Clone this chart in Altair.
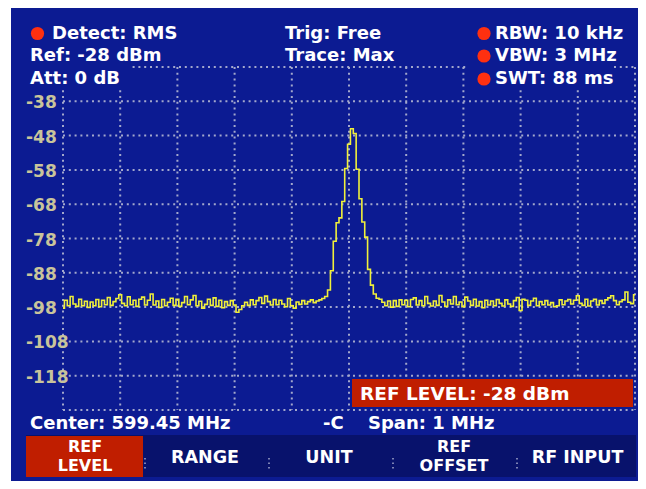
import altair as alt
import pandas as pd

# ---------------- data ----------------
START_MHZ = 598.95
STEP_MHZ = 0.005
LEVELS = [
    -98.3, -96.0, -97.6, -94.9, -97.1, -97.8, -95.7, -97.6, -96.3, -98.1,
    -96.5, -97.6, -95.8, -97.9, -96.0, -97.3, -95.2, -97.5, -96.4, -95.5,
    -94.4, -96.9, -97.6, -95.0, -97.3, -96.0, -97.8, -95.7, -95.1, -97.4,
    -96.0, -94.2, -97.4, -96.2, -98.1, -95.8, -97.6, -96.6, -95.4, -97.5,
    -95.7, -97.8, -96.7, -94.9, -97.3, -95.9, -94.6, -97.6, -96.3, -98.3,
    -97.2, -95.7, -97.5, -95.3, -97.8, -96.0, -98.2, -96.4, -97.5, -96.1,
    -97.4, -99.5, -98.7, -97.6, -96.6, -97.5, -95.9, -97.3, -96.1, -95.2,
    -96.9, -94.8, -96.4, -97.4, -95.8, -97.3, -96.0, -97.1, -97.9, -95.5,
    -97.6, -98.3, -96.5, -97.2, -96.1, -97.1, -96.4, -95.9, -96.7, -96.2,
    -95.9, -95.5, -94.9, -93.0, -87.4, -78.8, -73.4, -72.0, -67.2, -57.6,
    -50.5, -46.0, -47.4, -57.8, -66.4, -73.2, -77.6, -87.0, -91.6, -94.2,
    -95.4, -95.7, -96.6, -97.6, -96.2, -98.0, -96.1, -97.8, -95.9, -97.3,
    -96.0, -97.9, -95.8, -95.3, -97.4, -96.1, -97.6, -94.9, -96.9, -97.7,
    -96.2, -97.5, -94.6, -96.5, -97.8, -95.9, -97.1, -94.9, -97.3, -96.5,
    -97.9, -95.1, -96.2, -97.5, -95.7, -97.7, -96.4, -98.2, -96.0, -97.4,
    -96.2, -97.6, -95.8, -96.9, -97.7, -95.9, -97.1, -97.8, -96.1, -95.2,
    -99.0, -95.7, -96.0, -97.5, -96.2, -95.4, -97.6, -96.4, -97.3, -96.1,
    -97.4, -96.7, -97.9, -97.6, -95.9, -97.3, -96.2, -95.8, -97.1, -96.0,
    -94.7, -96.9, -97.5, -95.7, -97.7, -96.2, -95.7, -97.4, -96.1, -96.9,
    -95.9, -95.3, -94.7, -96.1, -97.3, -96.4, -95.9, -93.6, -96.6, -97.0,
    -94.4,
]
Y_GRID = [-28, -38, -48, -58, -68, -78, -88, -98, -108, -118, -128]
Y_LABELS = ["-38", "-48", "-58", "-68", "-78", "-88", "-98", "-108", "-118"]
Y_LABEL_LEVELS = [-38, -48, -58, -68, -78, -88, -98, -108, -118]
X_GRID = [598.95, 599.05, 599.15, 599.25, 599.35, 599.45,
          599.55, 599.65, 599.75, 599.85, 599.95]

HEADER_LEFT = ["Detect: RMS", "Ref: -28 dBm", "Att: 0 dB"]
HEADER_MID = ["Trig: Free", "Trace: Max"]
HEADER_RIGHT = ["RBW: 10 kHz", "VBW: 3 MHz", "SWT: 88 ms"]
CENTER_TEXT = "Center: 599.45 MHz"
SPAN_TEXT = "Span: 1 MHz"
PLUG_TEXT = "-C"
STATUS_TEXT = "REF LEVEL: -28 dBm"
SOFTKEYS = [["REF", "LEVEL"], ["RANGE"], ["UNIT"], ["REF", "OFFSET"], ["RF INPUT"]]

# ---------------- styles ----------------
W, H = 630, 473
FONT = "DejaVu Sans"
BLUE = "#0c1b92"
BAR = "#08126c"
RED = "#c01e00"
DOT = "#ff3010"
GRID = "#a3a8cc"
LABEL = "#c9c49b"
YELLOW = "#f0f03a"

xscale = alt.Scale(domain=[598.95, 599.95], range=[55, 627])
yscale = alt.Scale(domain=[-128, -28], range=[402, 59])

ONE = alt.Data(values=[{"a": 1}])


def rect(x1, y1, x2, y2, color):
    return alt.Chart(ONE).mark_rect(color=color).encode(
        x=alt.value(x1), x2=alt.value(x2), y=alt.value(y1), y2=alt.value(y2))


def txt(s, x, y, color="white", size=18, align="left"):
    return alt.Chart(ONE).mark_text(
        text=s, align=align, baseline="middle", font=FONT, fontSize=size,
        fontWeight="bold", color=color).encode(x=alt.value(x), y=alt.value(y))


def dot(x, y):
    return alt.Chart(ONE).mark_point(
        shape="circle", filled=True, size=175, color=DOT, opacity=1).encode(
        x=alt.value(x), y=alt.value(y))


trace_df = pd.DataFrame({
    "f": [START_MHZ + i * STEP_MHZ for i in range(len(LEVELS))],
    "lvl": LEVELS,
})

layers = []
layers.append(rect(3, 0, W, H, BLUE))

# grid
hgrid = alt.Chart(pd.DataFrame({"lvl": Y_GRID})).mark_rule(
    color=GRID, strokeWidth=2, strokeDash=[2, 3.8]).encode(
    y=alt.Y("lvl:Q", scale=yscale, axis=None),
    x=alt.value(55), x2=alt.value(627))
vgrid = alt.Chart(pd.DataFrame({"f": X_GRID})).mark_rule(
    color=GRID, strokeWidth=2, strokeDash=[2, 3.8]).encode(
    x=alt.X("f:Q", scale=xscale, axis=None),
    y=alt.value(59), y2=alt.value(402))
layers += [hgrid, vgrid]

# masks behind header texts
layers.append(rect(3, 50, 122, 82, BLUE))
layers.append(rect(460, 50, 604, 81, BLUE))

# trace
trace = alt.Chart(trace_df).mark_line(
    interpolate="step", color=YELLOW, strokeWidth=1.6).encode(
    x=alt.X("f:Q", scale=xscale, axis=None),
    y=alt.Y("lvl:Q", scale=yscale, axis=None))
layers.append(trace)

# y labels
ylab = alt.Chart(pd.DataFrame({"lvl": Y_LABEL_LEVELS, "t": Y_LABELS})).mark_text(
    align="left", baseline="middle", font=FONT, fontSize=17, fontWeight="bold",
    color=LABEL, dy=2).encode(
    y=alt.Y("lvl:Q", scale=yscale, axis=None), x=alt.value(18), text="t:N")
layers.append(ylab)

# header
layers.append(dot(29.5, 25.5))
layers.append(txt(HEADER_LEFT[0], 44, 25.5))
layers.append(txt(HEADER_LEFT[1], 22, 48))
layers.append(txt(HEADER_LEFT[2], 22, 71))
layers.append(txt(HEADER_MID[0], 277, 25.5))
layers.append(txt(HEADER_MID[1], 277, 48))
for i, s in enumerate(HEADER_RIGHT):
    yy = [25.5, 48, 71][i]
    layers.append(dot(476, yy))
    layers.append(txt(s, 487, yy))

# status box
layers.append(rect(344, 371, 625, 399, RED))
layers.append(txt(STATUS_TEXT, 352, 386, size=18.5))

# footer
layers.append(txt(CENTER_TEXT, 22, 416))
layers.append(txt(PLUG_TEXT, 315, 416))
layers.append(txt(SPAN_TEXT, 360, 416))

# softkey bar
layers.append(rect(18, 427, 628, 469, BAR))
layers.append(rect(18, 428, 135, 469, RED))
sep = alt.Chart(pd.DataFrame({"x": [137, 261, 385, 509]})).mark_rule(
    color=GRID, strokeWidth=1.5, strokeDash=[1.5, 3]).encode(
    x=alt.X("x:Q", scale=None), y=alt.value(450), y2=alt.value(463))
layers.append(sep)
key_x = [77, 197, 321, 446, 569.5]
for kx, lines in zip(key_x, SOFTKEYS):
    if len(lines) == 2:
        layers.append(txt(lines[0], kx, 439, size=16, align="center"))
        layers.append(txt(lines[1], kx, 457.5, size=16, align="center"))
    else:
        layers.append(txt(lines[0], kx, 449.5, size=17.5, align="center"))

chart = alt.layer(*layers).properties(
    width=W, height=H, autosize="none", padding=0, background="white"
).configure_view(stroke=None)

chart.save("out.html", embed_options={"renderer": "svg", "actions": False})
